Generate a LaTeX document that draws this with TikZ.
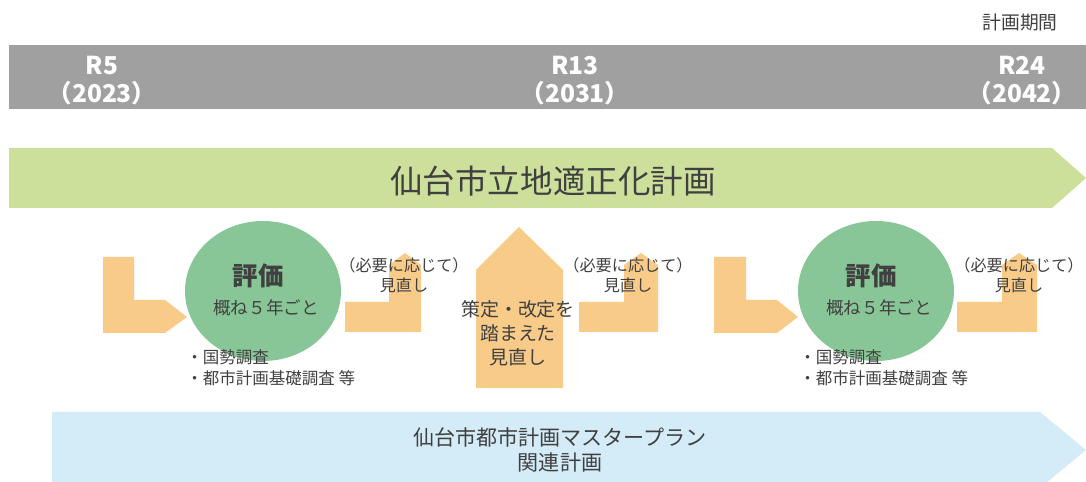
\documentclass[tikz,border=0pt]{standalone}
\usepackage{fontspec}
\setmainfont{Noto Sans CJK JP}
\definecolor{bargray}{HTML}{A0A0A0}
\definecolor{plangreen}{HTML}{CDE09B}
\definecolor{evalgreen}{HTML}{88C697}
\definecolor{steporange}{HTML}{F9CB89}
\definecolor{mpblue}{HTML}{D4EBF8}
\definecolor{txtgray}{HTML}{404040}
\tikzset{
  yearlbl/.style={text=white,align=center,inner sep=0pt,font=\fontsize{14}{16}\selectfont\bfseries},
  smalllbl/.style={text=txtgray,align=center,inner sep=0pt,font=\fontsize{9.2}{11.4}\selectfont},
}

\begin{document}
\begin{tikzpicture}[x=0.02cm,y=-0.02cm]
\useasboundingbox (0,0) rectangle (1086,482);
\clip (0,0) rectangle (1086,482);
% time axis
\fill[bargray] (9,45) rectangle (1086,109);
\node[smalllbl,font=\fontsize{10.7}{13}\selectfont] (period) at (1020,22) {計画期間};
\node[yearlbl] (r5) at (102,81) {R5\\（2023）};
\node[yearlbl] (r13) at (575,81) {R13\\（2031）};
\node[yearlbl] (r24) at (1022,81) {R24\\（2042）};
% plans
\fill[plangreen] (9,148) -- (1052,148) -- (1086,178) -- (1052,208) -- (9,208) -- cycle;
\node[smalllbl,font=\fontsize{18.5}{22}\selectfont] (ritchi) at (553,181) {仙台市立地適正化計画};
\fill[mpblue] (52,412) -- (1040,412) -- (1086,450) -- (1040,488) -- (52,488) -- cycle;
\node[smalllbl,font=\fontsize{12}{14.2}\selectfont] (master) at (560,450) {仙台市都市計画マスタープラン\\関連計画};
% review steps
\fill[steporange] (103,257) -- (134,257) -- (134,300) -- (165,300) -- (187,317)
  -- (165,333) -- (103,333) -- cycle;
\fill[steporange] (714,257) -- (746,257) -- (746,300) -- (777,300) -- (798,317)
  -- (777,333) -- (714,333) -- cycle;
\fill[steporange] (345,302) -- (389,302) -- (389,265) -- (405,253) -- (421,265)
  -- (421,332) -- (345,332) -- cycle;
\fill[steporange] (579,302) -- (624,302) -- (624,265) -- (641,253) -- (658,265)
  -- (658,332) -- (579,332) -- cycle;
\fill[steporange] (957,302) -- (1002,302) -- (1002,265) -- (1019,253) -- (1037,265)
  -- (1037,332) -- (957,332) -- cycle;
\fill[steporange] (476,388) -- (476,270) -- (519,227) -- (563,270) -- (563,388) -- cycle;
\fill[evalgreen] (263,291) ellipse [x radius=78, y radius=70];
\fill[evalgreen] (876,291) ellipse [x radius=78, y radius=70];
% texts
\node[smalllbl,font=\fontsize{14.5}{16}\selectfont\bfseries] (evalA) at (258,276) {評価};
\node[smalllbl,font=\fontsize{10}{12}\selectfont] (cycleA) at (266,308) {概ね５年ごと};
\node[smalllbl,font=\fontsize{14.5}{16}\selectfont\bfseries] (evalB) at (871,276) {評価};
\node[smalllbl,font=\fontsize{10}{12}\selectfont] (cycleB) at (879,308) {概ね５年ごと};
\node[smalllbl,align=left,anchor=west,font=\fontsize{9.4}{12}\selectfont] (surveyA) at (186,368) {・国勢調査\\・都市計画基礎調査 等};
\node[smalllbl,align=left,anchor=west,font=\fontsize{9.4}{12}\selectfont] (surveyB) at (799,368) {・国勢調査\\・都市計画基礎調査 等};
\node[smalllbl] (reviewA) at (404,275) {（必要に応じて）\\見直し};
\node[smalllbl] (reviewB) at (628,275) {（必要に応じて）\\見直し};
\node[smalllbl] (reviewC) at (1019,275) {（必要に応じて）\\見直し};
\node[smalllbl,font=\fontsize{10.8}{13.6}\selectfont] (revise) at (518,333) {策定・改定を\\踏まえた\\見直し};
\end{tikzpicture}
\end{document}
